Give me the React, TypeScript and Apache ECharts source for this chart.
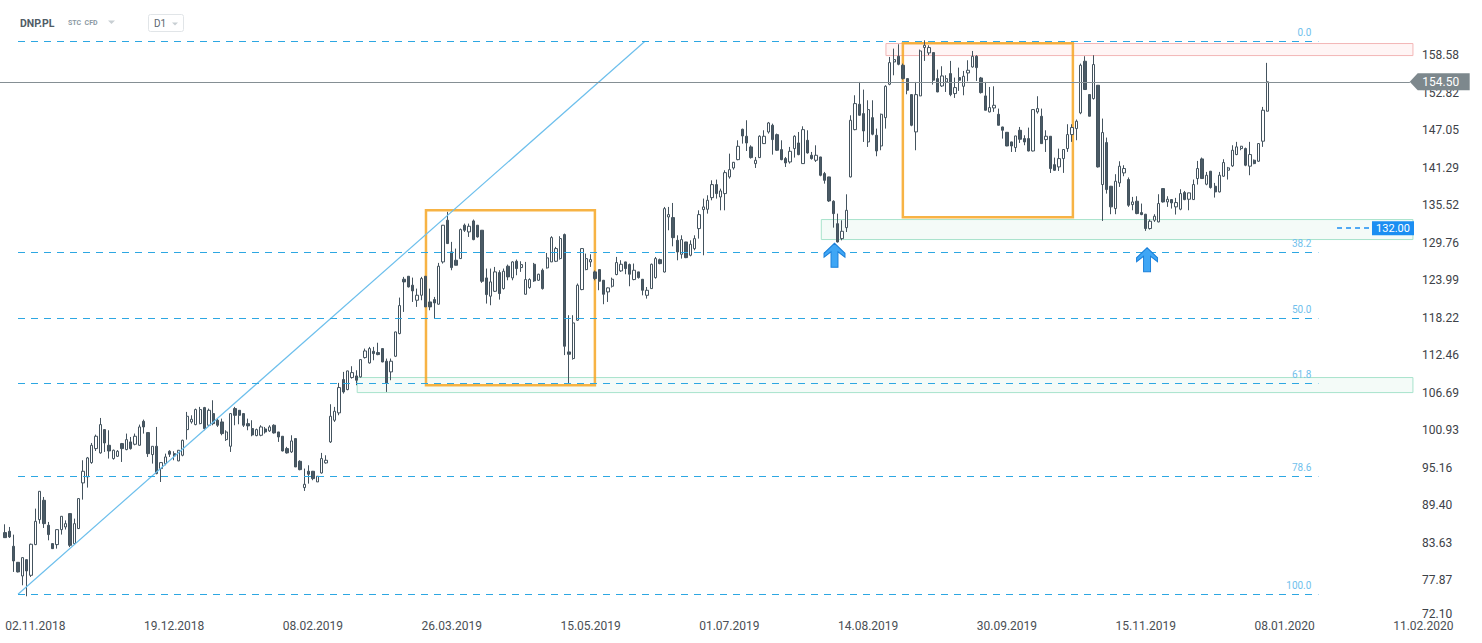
import React, { useEffect, useRef } from "react";
import * as echarts from "echarts";

// ---- candle data (index 0 = 23.10.2018, daily sessions) ----
const opens = [
  85.22, 85.43, 83.12, 80.66, 78.56, 81.07, 78.66, 83.38, 87.22, 90.19,
  86.35, 83.53, 83.38, 85.68, 86.09, 88.14, 83.53, 85.84, 92.86, 93.78,
  95.98, 98.13, 97.47, 101.05, 98.64, 96.6, 96.95, 98.9, 97.98, 99.16,
  98.8, 98.64, 102.33, 100.59, 97.21, 98.49, 95.06, 95.83, 97.72, 97.36,
  96.24, 97.11, 101.05, 102.23, 101.82, 101.97, 104.43, 101.72, 103.51, 102.49,
  102.23, 99.51, 98.49, 104.28, 104.02, 103.51, 101.97, 101.21, 100.13, 100.18,
  101.15, 100.85, 101.72, 100.69, 100.03, 98.13, 97.62, 99.67, 96.18, 92.14,
  94.65, 94.65, 93.01, 94.39, 95.93, 99.16, 102.49, 103.62, 108.74, 107.2,
  109.05, 109.3, 109.15, 112.12, 111.3, 113.09, 112.89, 113.5, 111.56, 109.92,
  112.32, 115.81, 124.16, 124.62, 123.24, 120.93, 121.7, 124.62, 120.67, 121.03,
  120.32, 126.82, 133.23, 128.36, 127.08, 127.33, 132.46, 131.43, 133.12, 132.46,
  131.69, 124.36, 121.55, 122.31, 125.18, 122.72, 126.16, 124.36, 126.92, 125.95,
  121.85, 122.88, 126.46, 124.0, 125.54, 125.9, 126.82, 126.92, 127.33, 131.02,
  112.99, 111.97, 117.86, 122.57, 125.64, 126.82, 125.29, 125.64, 124.0, 122.21,
  123.08, 124.88, 125.44, 126.82, 126.41, 124.11, 125.29, 124.15, 121.69, 122.72,
  124.41, 127.17, 125.27, 133.73, 133.63, 130.14, 127.99, 129.89, 127.84, 128.86,
  131.94, 134.86, 134.91, 136.7, 138.7, 136.8, 137.32, 139.88, 141.26, 142.54,
  147.2, 146.13, 144.49, 141.93, 142.85, 145.0, 146.79, 147.82, 146.38, 144.08,
  142.7, 142.18, 144.23, 145.1, 141.93, 145.51, 143.21, 142.44, 142.95, 140.39,
  139.88, 136.14, 132.7, 130.4, 132.09, 139.88, 147.15, 151.05, 149.61, 145.26,
  148.99, 146.28, 144.64, 148.99, 154.12, 157.55, 158.42, 157.04, 154.99, 152.53,
  146.8, 152.33, 159.76, 158.94, 158.99, 154.99, 153.86, 154.48, 155.76, 152.69,
  155.15, 153.81, 155.86, 156.78, 158.42, 155.09, 152.33, 149.87, 150.48, 149.51,
  147.56, 146.74, 145.26, 144.39, 147.05, 145.77, 145.77, 143.87, 149.87, 149.2,
  145.62, 146.13, 141.77, 141.42, 142.7, 144.24, 146.39, 147.31, 149.72, 157.66,
  152.54, 151.92, 153.97, 138.71, 145.16, 138.45, 135.02, 138.96, 140.5, 139.48,
  135.63, 136.15, 134.4, 134.15, 131.95, 133.23, 132.97, 138.09, 136.04, 136.4,
  135.28, 134.92, 137.48, 136.45, 136.4, 139.63, 142.65, 138.76, 140.76, 138.45,
  137.58, 139.99, 140.91, 141.58, 143.32, 144.24, 144.24, 141.53, 142.45, 142.29,
  145.37, 149.98,
];
const closes = [
  84.45, 84.56, 80.87, 79.18, 81.38, 79.33, 83.43, 86.96, 91.57, 86.6,
  84.92, 82.76, 85.68, 87.73, 86.6, 83.27, 86.6, 90.45, 94.65, 96.7,
  98.64, 100.03, 101.82, 99.0, 97.77, 97.88, 97.72, 98.13, 99.51, 98.13,
  100.03, 101.46, 101.46, 97.36, 98.49, 94.29, 95.98, 96.85, 97.26, 97.0,
  97.88, 99.41, 103.1, 102.64, 104.13, 104.13, 101.21, 104.02, 101.97, 101.72,
  100.44, 100.69, 103.51, 103.25, 103.25, 101.72, 101.62, 100.23, 101.05, 101.46,
  100.69, 101.46, 100.54, 99.92, 97.77, 97.47, 99.31, 95.31, 94.9, 92.65,
  94.19, 93.52, 93.88, 96.6, 96.34, 103.1, 103.87, 107.51, 106.84, 110.07,
  109.81, 108.64, 111.81, 113.14, 113.5, 112.73, 112.58, 111.45, 108.23, 111.56,
  116.06, 120.11, 123.75, 122.98, 122.37, 121.7, 124.26, 119.91, 119.91, 120.52,
  126.16, 132.46, 129.64, 125.95, 126.31, 131.79, 131.69, 132.3, 130.25, 130.66,
  123.85, 121.8, 123.75, 125.29, 121.96, 125.39, 124.52, 126.82, 125.8, 126.41,
  124.11, 124.11, 123.9, 124.93, 122.72, 127.44, 130.56, 128.87, 130.41, 113.86,
  112.63, 117.45, 123.24, 128.87, 127.33, 127.18, 124.26, 123.85, 121.85, 122.83,
  124.16, 126.72, 126.46, 125.8, 124.93, 125.54, 124.41, 122.46, 122.46, 126.46,
  127.33, 126.56, 135.01, 134.09, 130.55, 128.35, 130.25, 127.48, 129.53, 130.4,
  134.09, 135.27, 136.29, 138.7, 137.32, 137.73, 140.54, 141.0, 142.13, 144.59,
  146.18, 145.1, 142.85, 142.44, 146.13, 146.13, 148.18, 145.62, 143.98, 142.54,
  142.03, 143.82, 146.13, 143.31, 147.15, 143.57, 142.7, 143.21, 140.13, 139.36,
  136.19, 134.24, 129.89, 131.53, 134.75, 148.59, 151.15, 149.36, 146.95, 150.23,
  146.44, 143.87, 149.51, 153.81, 157.45, 157.91, 157.19, 154.99, 153.2, 147.82,
  152.53, 159.24, 160.11, 159.76, 154.74, 152.94, 155.4, 154.99, 152.53, 153.61,
  154.74, 155.35, 156.27, 158.42, 156.68, 152.84, 150.13, 150.54, 150.89, 147.82,
  147.05, 144.64, 144.64, 146.18, 145.67, 145.26, 143.87, 150.23, 150.38, 145.0,
  146.13, 141.16, 140.9, 142.7, 144.09, 146.39, 147.47, 148.44, 157.05, 153.31,
  149.21, 157.15, 141.42, 146.7, 137.94, 135.28, 139.22, 141.53, 141.17, 135.53,
  136.04, 134.25, 134.1, 131.95, 133.07, 133.84, 135.79, 136.04, 136.45, 135.89,
  135.94, 137.32, 136.4, 137.43, 138.71, 141.17, 139.63, 140.14, 138.25, 137.58,
  140.14, 142.09, 141.27, 143.98, 144.5, 144.6, 141.68, 143.32, 141.93, 145.01,
  150.13, 154.5,
];
const highs = [
  86.5, 86.09, 84.91, 80.7, 81.4, 81.1, 83.53, 88.91, 91.6, 90.7,
  86.86, 83.55, 85.7, 87.75, 87.1, 88.15, 87.37, 90.5, 96.34, 96.85,
  99.0, 100.28, 102.84, 101.1, 100.95, 97.98, 97.9, 99.0, 100.44, 99.92,
  100.44, 101.82, 102.59, 100.6, 98.5, 101.46, 96.0, 97.36, 97.88, 97.72,
  97.9, 99.5, 103.77, 103.25, 104.28, 104.54, 104.54, 104.28, 105.56, 102.74,
  102.74, 100.95, 103.55, 104.54, 104.05, 103.55, 102.74, 102.49, 101.2, 101.72,
  101.46, 101.72, 101.87, 100.7, 100.05, 98.4, 100.18, 99.7, 96.34, 95.06,
  95.57, 94.7, 93.9, 97.47, 97.11, 104.95, 104.54, 108.23, 109.92, 110.1,
  110.79, 110.17, 111.85, 113.5, 113.76, 113.76, 114.4, 113.55, 111.97, 111.97,
  116.1, 121.34, 124.52, 124.65, 124.41, 122.72, 124.52, 124.65, 122.72, 121.44,
  126.67, 132.5, 134.51, 129.9, 128.87, 131.95, 132.71, 132.71, 133.33, 132.5,
  131.7, 125.8, 125.8, 126.05, 125.54, 125.8, 126.41, 126.92, 127.18, 126.92,
  126.82, 124.3, 126.67, 125.0, 125.8, 128.2, 130.77, 129.13, 130.77, 131.18,
  118.63, 118.63, 123.5, 128.9, 128.1, 128.0, 125.5, 125.65, 124.05, 122.9,
  124.41, 127.59, 127.08, 126.85, 126.57, 126.57, 125.3, 124.2, 122.97, 126.56,
  127.58, 127.33, 135.27, 135.27, 135.88, 130.91, 130.91, 129.9, 130.14, 130.91,
  134.75, 136.55, 137.06, 139.36, 139.47, 138.08, 140.9, 143.46, 142.18, 145.51,
  147.3, 148.59, 144.74, 142.95, 146.28, 147.05, 148.33, 148.07, 146.54, 145.51,
  142.95, 144.49, 146.28, 146.79, 147.66, 147.05, 143.72, 144.74, 142.97, 140.65,
  139.9, 136.29, 134.24, 133.22, 137.21, 149.35, 152.43, 154.48, 153.3, 151.66,
  151.66, 147.31, 149.61, 153.97, 158.32, 159.6, 160.27, 157.3, 155.0, 152.55,
  154.48, 159.45, 160.88, 160.11, 159.0, 156.37, 156.89, 155.5, 157.71, 155.15,
  156.68, 156.17, 157.81, 159.24, 158.58, 155.25, 154.48, 153.71, 153.81, 150.38,
  147.6, 146.75, 145.3, 146.2, 147.56, 146.28, 147.46, 150.25, 152.28, 150.38,
  147.05, 146.15, 142.85, 144.23, 144.12, 147.98, 147.98, 148.7, 157.3, 158.43,
  152.55, 158.58, 154.0, 148.85, 145.93, 138.5, 140.3, 142.29, 141.68, 139.8,
  136.81, 136.91, 135.79, 134.2, 133.33, 134.15, 137.22, 138.1, 136.91, 136.45,
  136.66, 137.99, 137.73, 137.45, 139.48, 142.34, 142.86, 140.65, 140.8, 138.96,
  140.65, 142.6, 141.42, 144.75, 145.27, 144.65, 144.39, 145.27, 142.55, 145.05,
  150.64, 157.41,
];
const lows = [
  84.4, 84.4, 79.18, 79.1, 77.13, 75.44, 78.41, 83.3, 86.6, 85.94,
  84.04, 82.7, 82.76, 84.92, 85.7, 83.0, 83.4, 85.8, 90.29, 92.14,
  95.8, 97.77, 97.36, 97.62, 96.6, 96.44, 96.85, 96.08, 97.88, 97.98,
  98.64, 98.6, 100.44, 96.85, 95.83, 94.19, 93.0, 95.57, 96.85, 96.34,
  96.2, 96.95, 99.51, 101.97, 101.72, 101.87, 100.95, 101.56, 101.72, 101.46,
  100.18, 99.31, 97.62, 101.72, 101.87, 101.46, 100.95, 100.03, 100.03, 100.03,
  100.44, 100.69, 100.44, 99.16, 97.7, 97.36, 97.47, 95.3, 94.8, 91.63,
  92.75, 93.27, 93.0, 94.29, 95.83, 99.0, 102.23, 103.26, 106.59, 107.1,
  108.89, 107.87, 109.05, 111.97, 111.2, 111.71, 112.48, 111.4, 106.84, 108.64,
  112.2, 115.7, 119.14, 122.9, 120.67, 119.91, 120.93, 119.9, 119.39, 118.11,
  120.27, 126.57, 129.6, 125.54, 126.3, 127.3, 131.43, 130.66, 130.15, 130.56,
  123.6, 120.42, 120.16, 122.2, 121.03, 122.57, 124.0, 124.0, 124.77, 125.29,
  121.8, 122.7, 123.75, 123.9, 122.57, 125.8, 126.8, 126.8, 127.18, 112.5,
  108.12, 111.8, 117.75, 122.47, 125.54, 126.05, 124.0, 122.47, 120.32, 120.67,
  122.88, 124.77, 125.29, 124.93, 123.08, 124.0, 124.26, 121.69, 121.18, 122.7,
  124.25, 126.46, 125.2, 131.68, 129.22, 127.07, 127.33, 127.4, 127.68, 128.61,
  130.4, 127.84, 134.24, 136.29, 136.55, 134.75, 134.75, 139.62, 141.0, 142.44,
  145.0, 143.87, 142.7, 141.26, 142.8, 144.95, 146.54, 143.31, 143.87, 142.44,
  141.41, 141.93, 142.85, 143.21, 141.9, 143.46, 142.54, 142.18, 139.98, 138.85,
  136.04, 132.09, 129.8, 130.14, 131.42, 139.8, 147.05, 149.3, 145.26, 144.49,
  146.28, 143.06, 143.98, 147.31, 153.97, 155.5, 157.04, 154.84, 152.58, 147.67,
  143.98, 152.3, 157.71, 158.58, 154.07, 152.9, 153.71, 152.94, 152.28, 152.02,
  153.1, 152.43, 154.58, 156.68, 154.63, 152.69, 150.1, 149.8, 149.87, 147.8,
  145.77, 144.6, 143.72, 143.72, 145.1, 144.75, 143.8, 143.8, 149.61, 144.95,
  143.72, 140.49, 140.8, 140.8, 140.5, 143.73, 145.27, 145.52, 149.52, 153.3,
  149.2, 151.77, 141.32, 133.12, 137.32, 134.15, 134.15, 138.35, 139.99, 135.28,
  134.76, 134.15, 134.0, 131.59, 131.79, 132.97, 132.9, 135.94, 135.28, 135.02,
  134.1, 134.76, 136.3, 134.76, 136.35, 138.71, 139.6, 138.6, 138.09, 136.71,
  137.5, 139.89, 139.48, 141.42, 143.22, 143.98, 141.53, 140.14, 141.83, 142.19,
  144.5, 149.95,
];

// ---- axes ----
const xTickIndex = [7, 39, 71, 103, 135, 167, 199, 231, 263, 295, 327];
const xTickLabels = [
  "02.11.2018", "19.12.2018", "08.02.2019", "26.03.2019", "15.05.2019", "01.07.2019",
  "14.08.2019", "30.09.2019", "15.11.2019", "08.01.2020", "11.02.2020",
];
const yTicks = [
  72.1, 77.87, 83.63, 89.4, 95.16, 100.93, 106.69, 112.46, 118.22, 123.99,
  129.76, 135.52, 141.29, 147.05, 152.82, 158.58,
];

// ---- drawings ----
const fibNames = ["0.0", "38.2", "50.0", "61.8", "78.6", "100.0"];
const fibPrices = [160.73, 128.27, 118.24, 108.21, 93.94, 75.75];
const fibSpan = [3.0, 302.8];
const trendLine = [[3.0, 75.75], [147.55, 160.73]];
const orangeBoxes = [
  [[97.06, 134.76], [136.0, 107.87]],
  [[207.0, 160.42], [246.2, 133.68]],
];
const pinkZone = [[203.1, 160.38], [324.6, 158.53]];
const greenZones = [
  [[188.2, 133.33], [324.6, 130.26]],
  [[81.2, 109.05], [324.6, 106.74]],
];
const lastPrice = 154.5;
const lastPriceSpan = [-1.15, 323.9];
const lastPriceTagX = 330.77;
const alertPrice = 132.0;
const alertLineSpan = [307.1, 315.2];
const alertTagX = 320.0;
const arrowPoints = [[191.24, 127.84], [263.3, 127.15]];

const FONT = "Roboto, 'Noto Sans', sans-serif";

export default function App() {
  const ref = useRef<HTMLDivElement>(null);

  useEffect(() => {
    document.body.style.margin = "0";
    if (!ref.current) return;
    const chart = echarts.init(ref.current, null, { renderer: "svg" });

    const candleData = opens.map((o, i) => [i, o, closes[i], lows[i], highs[i]]);

    const option: any = {
      animation: false,
      backgroundColor: "#ffffff",
      grid: {
        left: 0,
        right: 0,
        top: 30,
        bottom: 25,
        containLabel: false,
        outerBoundsMode: "none",
      },
      xAxis: {
        type: "value",
        min: -1.15,
        max: 340.52,
        axisLine: { show: false },
        axisTick: { show: false },
        splitLine: { show: false },
        axisLabel: {
          customValues: xTickIndex,
          formatter: (v: number) => {
            const k = xTickIndex.indexOf(Math.round(v));
            return k >= 0 ? xTickLabels[k] : "";
          },
          margin: 2,
          color: "#4a4f55",
          fontSize: 12,
          fontFamily: FONT,
        },
      },
      yAxis: {
        type: "value",
        position: "right",
        offset: -69,
        min: 72.1,
        max: 162.46,
        scale: true,
        axisLine: { show: false },
        axisTick: { show: false },
        splitLine: { show: false },
        axisLabel: {
          customValues: yTicks,
          margin: 9,
          color: "#3d4248",
          fontSize: 12,
          fontFamily: FONT,
          formatter: (v: number) =>
            Math.abs(v - yTicks[0]) < 0.001 ? `{low|${v.toFixed(2)}}` : v.toFixed(2),
          rich: {
            low: {
              padding: [0, 0, 9, 0],
              color: "#3d4248",
              fontSize: 12,
              fontFamily: FONT,
            },
          },
        },
      },
      graphic: [
        {
          type: "text",
          left: 20,
          top: 18,
          style: { text: "DNP.PL", fontSize: 10.5, fontWeight: "bold", fill: "#505c66", fontFamily: FONT },
        },
        {
          type: "text",
          left: 68,
          top: 19.5,
          style: { text: "STC  CFD", fontSize: 7, fontWeight: "bold", fill: "#8b99a3", fontFamily: FONT },
        },
        {
          type: "polygon",
          shape: { points: [[108, 20.5], [115, 20.5], [111.5, 24]] },
          style: { fill: "#c8cfd3" },
        },
        {
          type: "rect",
          shape: { x: 148.5, y: 14.5, width: 35, height: 17, r: 2 },
          style: { fill: "#ffffff", stroke: "#e1e5e8", lineWidth: 1 },
        },
        {
          type: "text",
          left: 154,
          top: 18,
          style: { text: "D1", fontSize: 10, fill: "#5b6670", fontFamily: FONT },
        },
        {
          type: "polygon",
          shape: { points: [[172, 22.5], [178, 22.5], [175, 25.5]] },
          style: { fill: "#c8cfd3" },
        },
      ],
      series: [
        {
          name: "zones",
          type: "line",
          data: [],
          z: 1,
          silent: true,
          markArea: {
            silent: true,
            data: [
              [
                { coord: pinkZone[0], itemStyle: { color: "#fff5f5", borderColor: "#f3b6b6", borderWidth: 1 } },
                { coord: pinkZone[1] },
              ],
              ...greenZones.map((z) => [
                { coord: z[0], itemStyle: { color: "#f4fbf8", borderColor: "#a8e3cc", borderWidth: 1 } },
                { coord: z[1] },
              ]),
            ],
          },
        },
        {
          name: "DNP.PL",
          type: "candlestick",
          data: candleData,
          encode: { x: 0, y: [1, 2, 3, 4] },
          barWidth: 2.8,
          z: 2,
          itemStyle: {
            color: "#ffffff",
            color0: "#4a5a65",
            borderColor: "#44535e",
            borderColor0: "#44535e",
            borderWidth: 1,
          },
        },
        {
          name: "fib",
          type: "line",
          data: trendLine,
          showSymbol: false,
          symbol: "none",
          z: 3,
          silent: true,
          lineStyle: { color: "#6cbfec", width: 1.2 },
          markLine: {
            silent: true,
            symbol: ["none", "none"],
            lineStyle: { color: "#2da7e2", type: [7, 6], width: 1 },
            label: {
              show: true,
              position: "insideEndTop",
              formatter: "{b}",
              color: "#6fc0ec",
              fontSize: 10,
              fontFamily: FONT,
              distance: [7, 3.5],
            },
            data: fibPrices.map((p, i) => [
              { name: fibNames[i], coord: [fibSpan[0], p] },
              { coord: [fibSpan[1], p] },
            ]),
          },
        },
        {
          name: "boxes",
          type: "line",
          data: [],
          z: 4,
          silent: true,
          markArea: {
            silent: true,
            itemStyle: {
              color: "rgba(0,0,0,0)",
              borderColor: "rgba(246,166,35,0.85)",
              borderWidth: 2.5,
            },
            data: orangeBoxes.map((b) => [{ coord: b[0] }, { coord: b[1] }]),
          },
        },
        {
          name: "price",
          type: "line",
          data: [],
          z: 5,
          silent: true,
          markLine: {
            silent: true,
            symbol: ["none", "none"],
            label: { show: false },
            data: [
              [
                { coord: [lastPriceSpan[0], lastPrice], lineStyle: { color: "#858f94", width: 1, type: "solid" } },
                { coord: [lastPriceSpan[1], lastPrice] },
              ],
              [
                { coord: [alertLineSpan[0], alertPrice], lineStyle: { color: "#1b8ef2", width: 1.5, type: [5, 4] } },
                { coord: [alertLineSpan[1], alertPrice] },
              ],
            ],
          },
          markPoint: {
            silent: true,
            data: [
              {
                coord: [lastPriceTagX, lastPrice],
                symbol: "path://M0,8.5 L8,0 L60,0 L60,17 L8,17 Z",
                symbolSize: [60, 17],
                itemStyle: { color: "#7d888d" },
                label: {
                  show: true,
                  formatter: lastPrice.toFixed(2),
                  position: "inside",
                  offset: [1, 0],
                  color: "#ffffff",
                  fontSize: 12,
                  fontFamily: FONT,
                },
              },
              {
                coord: [alertTagX, alertPrice],
                symbol: "rect",
                symbolSize: [42, 14],
                itemStyle: { color: "#1b8ef2" },
                label: {
                  show: true,
                  formatter: alertPrice.toFixed(2),
                  position: "inside",
                  color: "#ffffff",
                  fontSize: 11,
                  fontFamily: FONT,
                },
              },
              ...arrowPoints.map((p) => ({
                coord: p,
                symbol: "path://M10.5,0 L21,10 L21,14 L14,8.5 L14,24 L7,24 L7,8.5 L0,14 L0,10 Z",
                symbolSize: [21, 24],
                itemStyle: { color: "#3fa6f5", borderColor: "#1a7fd9", borderWidth: 1 },
                label: { show: false },
              })),
            ],
          },
        },
      ],
    };

    chart.setOption(option);
    return () => {
      chart.dispose();
    };
  }, []);

  return <div ref={ref} style={{ width: 1482, height: 643 }} />;
}
